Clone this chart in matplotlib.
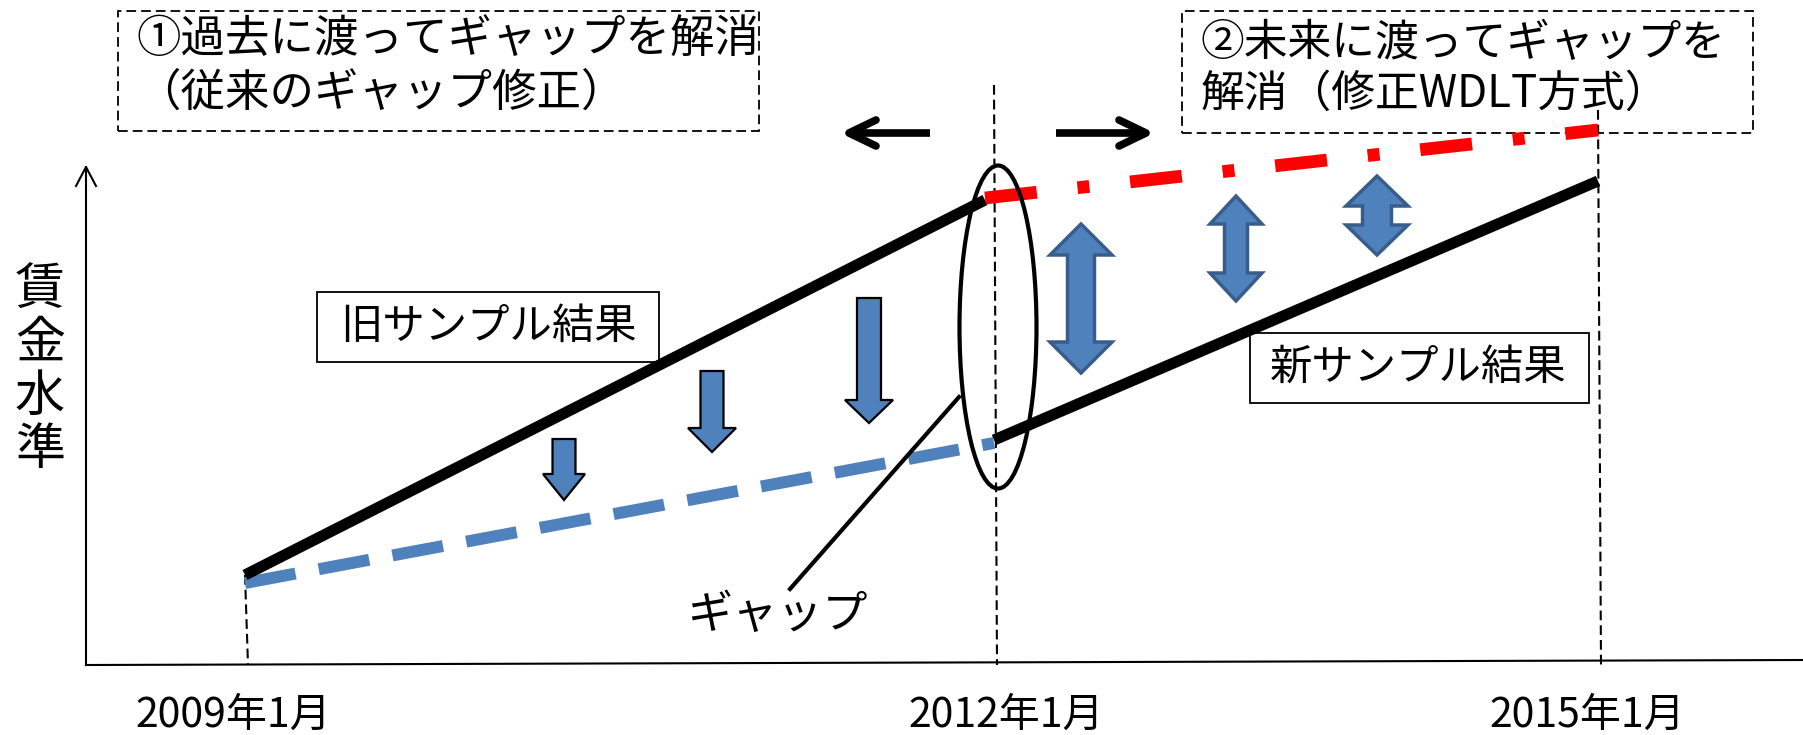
import matplotlib
matplotlib.use('Agg')
import matplotlib.pyplot as plt
from matplotlib.patches import Ellipse, Rectangle, Polygon

# CJK font first, DejaVu as fallback
plt.rcParams['font.family'] = ['Noto Sans CJK JP', 'DejaVu Sans']
plt.rcParams['lines.scale_dashes'] = False

W, H = 1803, 735

# --- data: x = time position, y = wage level (picture units, y up) ---
periods = ['2009年1月', '2012年1月', '2015年1月']
period_x = [245, 994, 1598]
period_line_top = [160, 650, 625]

old_x = [245, 985]          # 旧サンプル結果
old_y = [160, 535]
past_fix_x = [245, 994]     # 従来のギャップ修正 (blue dashed)
past_fix_y = [152, 292]
new_x = [994, 1598]         # 新サンプル結果
new_y = [295, 554]
future_fix_x = [985, 1598]  # 修正WDLT方式 (red dash-dot)
future_fix_y = [537, 605]

down_x = [564, 712, 869]
down_top = [296, 364, 437]
down_tip = [235, 283, 312]

updown_x = [1081, 1236, 1377]
updown_top = [511, 539, 559]
updown_bottom = [362, 434, 480]

BLUE = '#4F81BD'
DARKBLUE = '#385D8A'


def down_arrow(ax, cx, yt, yb, w, hw, hl):
    pts = [(cx - w/2, yt), (cx + w/2, yt), (cx + w/2, yb + hl), (cx + hw/2, yb + hl),
           (cx, yb), (cx - hw/2, yb + hl), (cx - w/2, yb + hl)]
    ax.add_patch(Polygon(pts, closed=True, facecolor=BLUE, edgecolor='black', lw=1.6, zorder=4))


def updown_arrow(ax, cx, yt, yb, w, hw, hl):
    pts = [(cx, yt), (cx + hw/2, yt - hl), (cx + w/2, yt - hl), (cx + w/2, yb + hl),
           (cx + hw/2, yb + hl), (cx, yb), (cx - hw/2, yb + hl), (cx - w/2, yb + hl),
           (cx - w/2, yt - hl), (cx - hw/2, yt - hl)]
    ax.add_patch(Polygon(pts, closed=True, facecolor=BLUE, edgecolor=DARKBLUE, lw=2.5,
                         joinstyle='miter', zorder=4))


def chevron(ax, x0, x1, y, back, half, lw):
    # plain black arrow: shaft + open head
    ax.plot([x0, x1], [y, y], color='black', lw=lw, solid_capstyle='butt', zorder=5)
    d = back if x1 > x0 else -back
    ax.plot([x1 - d, x1, x1 - d], [y + half, y, y - half], color='black', lw=lw,
            solid_capstyle='round', solid_joinstyle='round', zorder=5)


fig = plt.figure(figsize=(W / 100, H / 100), dpi=100)
ax = fig.add_axes([0, 0, 1, 1])
ax.set_xlim(0, W)
ax.set_ylim(0, H)
ax.axis('off')

# axes
ax.plot([86, 86], [70, 568], color='black', lw=1.5, zorder=3)
ax.plot([76, 86, 96], [549, 568, 549], color='black', lw=1.5, zorder=3)
ax.plot([86, W], [70, 75], color='black', lw=1.5, zorder=3)

# vertical dashed guides
for x, top in zip(period_x, period_line_top):
    ax.plot([x, x + 3], [top, 70], color='black', lw=1.5, linestyle=(0, (7, 3.6)), zorder=2)

# period labels
label_dx = [-12, 12, -11]
for x, dx, lab in zip(period_x, label_dx, periods):
    ax.text(x + dx, 20, lab, fontsize=29.5, ha='center', va='center')

# lines
ax.plot(past_fix_x, past_fix_y, color=BLUE, lw=8.6, linestyle=(0, (37, 17)),
        dash_capstyle='butt', zorder=3)
ax.plot(old_x, old_y, color='black', lw=8, solid_capstyle='butt', zorder=4)
ax.plot(new_x, new_y, color='black', lw=8, solid_capstyle='butt', zorder=4)
ax.plot(future_fix_x, future_fix_y, color='red', lw=9.2,
        linestyle=(0, (37.5, 29.5, 8.6, 29.5)), dash_capstyle='butt', zorder=5)

# ellipse around the gap and pointer
ax.add_patch(Ellipse((998, 408), 77, 323, fill=False, edgecolor='black', lw=3, zorder=6))
ax.plot([959, 790], [338, 146], color='black', lw=3, zorder=6)
ax.text(777, 120, 'ギャップ', fontsize=32.5, ha='center', va='center')

# blue arrows
shaft_w = [23, 23, 24]
head_w = [42, 48, 48]
head_l = [26, 24, 23]
for i in range(len(down_x)):
    down_arrow(ax, down_x[i], down_top[i], down_tip[i], shaft_w[i], head_w[i], head_l[i])

ud_shaft = [27, 23, 29]
ud_head = [62, 52, 62]
ud_len = [31, 28, 30]
for i in range(len(updown_x)):
    updown_arrow(ax, updown_x[i], updown_top[i], updown_bottom[i], ud_shaft[i], ud_head[i], ud_len[i])

# black direction arrows
chevron(ax, 930, 849, 602, 27, 13, 5.5)
chevron(ax, 1056, 1146, 602, 27, 13, 5.5)

# dashed explanation boxes
ax.add_patch(Rectangle((118, 604), 641, 120, fill=False, edgecolor='black', lw=1.3,
                       linestyle=(0, (7, 3.6)), zorder=1))
ax.text(136, 696, '①過去に渡ってギャップを解消', fontsize=32, ha='left', va='center')
ax.text(136, 642, '（従来のギャップ修正）', fontsize=32, ha='left', va='center')

ax.add_patch(Rectangle((1182, 602), 571, 122, fill=False, edgecolor='black', lw=1.3,
                       linestyle=(0, (7, 3.6)), zorder=1))
ax.text(1201, 692, '②未来に渡ってギャップを', fontsize=31.5, ha='left', va='center')
ax.text(1201, 641, '解消（修正WDLT方式）', fontsize=31.5, ha='left', va='center')

# solid label boxes
ax.add_patch(Rectangle((317, 373), 342, 70, fill=False, edgecolor='black', lw=1.3, zorder=1))
ax.text(340, 408, '旧サンプル結果', fontsize=30.5, ha='left', va='center')
ax.add_patch(Rectangle((1250, 332), 339, 70, fill=False, edgecolor='black', lw=1.3, zorder=1))
ax.text(1270, 367, '新サンプル結果', fontsize=30.5, ha='left', va='center')

# y label, stacked vertically
ax.text(40, 365, '\n'.join('賃金水準'), fontsize=36, ha='center', va='center', linespacing=1.03)

fig.savefig('out.png', dpi=100)
